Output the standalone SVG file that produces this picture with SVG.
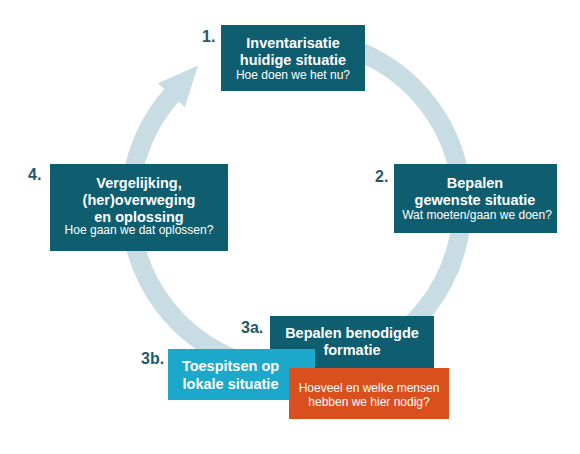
<svg xmlns="http://www.w3.org/2000/svg" width="580" height="454" viewBox="0 0 580 454">
<defs>
<marker id="ah" markerUnits="userSpaceOnUse" markerWidth="42" markerHeight="38" refX="1" refY="18" orient="auto">
<polygon points="0,0 40,18 0,36" fill="#c8dce3"/>
</marker>
<style>
.bx{fill:#0e5e6f}
.cy{fill:#1ba8cb}
.or{fill:#d9501e}
.h{font-family:"Liberation Sans",Arial,sans-serif;font-weight:bold;font-size:14.5px;fill:#ffffff;text-anchor:middle}
.s{font-family:"Liberation Sans",Arial,sans-serif;font-size:12px;fill:#ffffff;text-anchor:middle}
.n{font-family:"Liberation Sans",Arial,sans-serif;font-weight:bold;font-size:16px;fill:#1d5a6a}
</style>
</defs>
<rect width="580" height="454" fill="#ffffff"/>
<g id="connectors">
<path d="M296,39 A166,166 0 1 1 172.1,94.6" fill="none" stroke="#c8dce3" stroke-width="19" marker-end="url(#ah)"/>
</g>
<g id="node1">
<rect class="bx" x="221" y="25" width="144" height="66"/>
<text class="h" x="293" y="48">Inventarisatie</text>
<text class="h" x="293" y="65">huidige situatie</text>
<text class="s" x="293" y="78.5">Hoe doen we het nu?</text>
<text class="n" x="202" y="42">1.</text>
</g>
<g id="node2">
<rect class="bx" x="394" y="164" width="163" height="69"/>
<text class="h" x="475" y="187.5">Bepalen</text>
<text class="h" x="475" y="204.5">gewenste situatie</text>
<text class="s" x="477" y="218.5">Wat moeten/gaan we doen?</text>
<text class="n" x="375" y="182">2.</text>
</g>
<g id="node4">
<rect class="bx" x="50" y="164" width="178" height="87"/>
<text class="h" x="139" y="188">Vergelijking,</text>
<text class="h" x="139" y="205">(her)overweging</text>
<text class="h" x="139" y="221.5">en oplossing</text>
<text class="s" x="139" y="234">Hoe gaan we dat oplossen?</text>
<text class="n" x="28" y="179.5">4.</text>
</g>
<g id="node3a">
<rect class="bx" x="270" y="316" width="164" height="54"/>
<text class="h" x="352" y="337.5">Bepalen benodigde</text>
<text class="h" x="352" y="355">formatie</text>
<text class="n" x="241" y="332.5">3a.</text>
</g>
<g id="node3b">
<rect class="cy" x="168" y="349" width="147" height="51"/>
<text class="h" x="230.5" y="371">Toespitsen op</text>
<text class="h" x="230.5" y="388.5">lokale situatie</text>
<text class="n" x="141" y="363.5">3b.</text>
</g>
<g id="node3c">
<rect class="or" x="289" y="368" width="160" height="51"/>
<text class="s" x="369" y="392">Hoeveel en welke mensen</text>
<text class="s" x="369" y="406">hebben we hier nodig?</text>
</g>
</svg>
